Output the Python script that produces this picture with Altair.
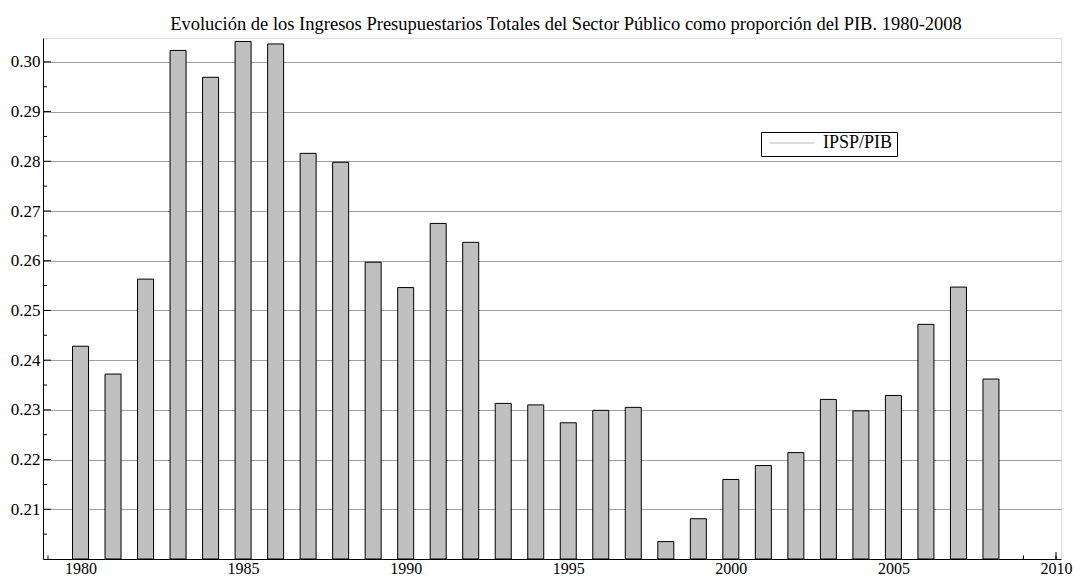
import altair as alt
import pandas as pd

years = list(range(1980, 2009))
values = [0.2428, 0.2372, 0.2563, 0.3023, 0.2969, 0.3041, 0.3036, 0.2816, 0.2798,
          0.2597, 0.2546, 0.2675, 0.2637, 0.2313, 0.2310, 0.2274, 0.2299, 0.2305,
          0.2035, 0.2081, 0.2160, 0.2188, 0.2214, 0.2321, 0.2298, 0.2329, 0.2472,
          0.2547, 0.2362]
series_name = "IPSP/PIB"
y_tick_values = [0.21, 0.22, 0.23, 0.24, 0.25, 0.26, 0.27, 0.28, 0.29, 0.30]
y_minor_values = [0.205, 0.215, 0.225, 0.235, 0.245, 0.255, 0.265, 0.275, 0.285, 0.295]
x_tick_values = [1980, 1985, 1990, 1995, 2000, 2005, 2010]
x_minor_values = list(range(1979, 2011))
title_text = ("Evolución de los Ingresos Presupuestarios Totales del Sector Público "
              "como proporción del PIB. 1980-2008")

FONT = "Liberation Serif, Times New Roman, DejaVu Serif, serif"
PAD_L, PAD_T, PAD_R, PAD_B = 35, 30, 16, 18
W, H = 1069 - PAD_L - PAD_R, 569 - PAD_T - PAD_B

df = pd.DataFrame({"year": years, "value": values, "serie": [series_name] * len(years)})
xminor = pd.DataFrame({"t": x_minor_values})
xmajor = pd.DataFrame({"t": x_tick_values})
yminor = pd.DataFrame({"v": y_minor_values})
ymajor = pd.DataFrame({"v": y_tick_values})

xscale = alt.Scale(domain=[1979, 2010], nice=False, zero=False)
yscale = alt.Scale(domain=[0.20, 0.3048], nice=False, zero=False)

xaxis = alt.Axis(values=x_tick_values, format="d", grid=False, ticks=False,
                 domainColor="black", domainWidth=1, labelFont=FONT, labelFontSize=16,
                 labelColor="black", labelPadding=1, title=None)
yaxis = alt.Axis(values=y_tick_values, format=".2f", grid=True, gridColor="#a0a0a0",
                 gridWidth=1, ticks=False, domainColor="black", domainWidth=1,
                 labelFont=FONT, labelFontSize=17, labelColor="black", labelPadding=3,
                 title=None)

bars = alt.Chart(df).mark_bar(size=16, stroke="black", strokeWidth=1).encode(
    x=alt.X("year:Q", scale=xscale, axis=xaxis),
    y=alt.Y("value:Q", scale=yscale, axis=yaxis),
    y2=alt.Y2(datum=0.20),
    color=alt.Color("serie:N", scale=alt.Scale(domain=[series_name], range=["#c0c0c0"]),
                    legend=alt.Legend(title=None, orient="none", legendX=718, legendY=94,
                                      symbolType="stroke", symbolSize=2025,
                                      symbolStrokeColor="#b8b8b8", symbolStrokeWidth=1,
                                      symbolOffset=4, padding=4, clipHeight=14,
                                      labelOffset=8,
                                      labelFont=FONT, labelFontSize=18, labelColor="black",
                                      strokeColor="black", fillColor="white")),
)

xminor_ticks = alt.Chart(xminor).mark_rule(color="black", strokeWidth=1).encode(
    x=alt.X("t:Q", scale=xscale), y=alt.value(H), y2=alt.value(H - 3.5))
xmajor_ticks = alt.Chart(xmajor).mark_rule(color="black", strokeWidth=1).encode(
    x=alt.X("t:Q", scale=xscale), y=alt.value(H), y2=alt.value(H - 7))
yminor_ticks = alt.Chart(yminor).mark_rule(color="black", strokeWidth=1).encode(
    y=alt.Y("v:Q", scale=yscale), x=alt.value(0), x2=alt.value(4))
ymajor_ticks = alt.Chart(ymajor).mark_rule(color="black", strokeWidth=1).encode(
    y=alt.Y("v:Q", scale=yscale), x=alt.value(0), x2=alt.value(8))

chart = alt.layer(xminor_ticks, xmajor_ticks, yminor_ticks, ymajor_ticks, bars).properties(
    width=W, height=H,
    title=alt.TitleParams(title_text, font=FONT, fontSize=18.5, fontWeight="normal",
                          color="black", anchor="middle", dx=14, offset=5),
    autosize=alt.AutoSizeParams(type="none"),
    padding={"left": PAD_L, "top": PAD_T, "right": PAD_R, "bottom": PAD_B},
).configure_view(stroke=None).configure(background="white")

chart.save("out.html", embed_options={"renderer": "svg", "actions": False})
